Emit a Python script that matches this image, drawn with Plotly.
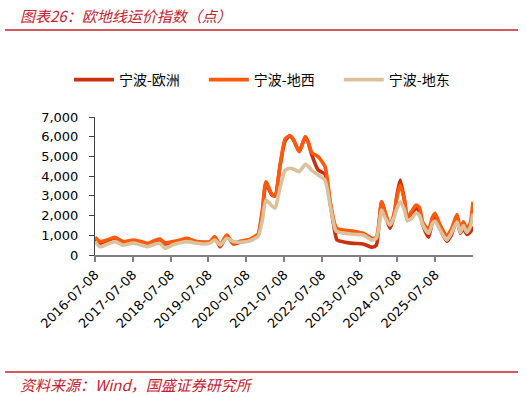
import plotly.graph_objects as go

dates = [
    "2016-07-08", "2016-08-25", "2016-11-03", "2017-01-18", "2017-04-05", "2017-07-12",
    "2017-09-16", "2017-12-01", "2018-02-09", "2018-03-28", "2018-05-15", "2018-07-31",
    "2018-10-08", "2018-12-13", "2019-03-18", "2019-05-19", "2019-07-23", "2019-09-09",
    "2019-10-30", "2020-01-01", "2020-03-07", "2020-05-12", "2020-08-15", "2020-10-01",
    "2020-10-30", "2020-12-09", "2021-01-15", "2021-03-11", "2021-04-13", "2021-05-30",
    "2021-07-20", "2021-09-06", "2021-10-12", "2021-12-02", "2022-01-30", "2022-02-28",
    "2022-04-01", "2022-06-03", "2022-08-08", "2022-09-28", "2022-11-14", "2022-12-02",
    "2023-02-17", "2023-05-08", "2023-08-11", "2023-11-07", "2023-12-17", "2024-01-11",
    "2024-02-06", "2024-03-10", "2024-04-26", "2024-06-05", "2024-07-05", "2024-08-04",
    "2024-09-13", "2024-10-12", "2024-11-21", "2025-01-04", "2025-02-06", "2025-03-11",
    "2025-05-05", "2025-06-10", "2025-07-06", "2025-08-26", "2025-10-27", "2025-12-10",
    "2026-02-03", "2026-03-08", "2026-04-06", "2026-05-09", "2026-06-10", "2026-07-08",
]

ningbo_europe = [
    820, 600, 700, 860, 620, 720,
    650, 540, 700, 780, 560, 640,
    720, 820, 640, 620, 650, 880,
    420, 960, 560, 650, 760, 900,
    1000, 2000, 3650, 3050, 3000, 4500,
    5800, 6050, 5800, 5250, 6000, 5700,
    5100, 4310, 4100, 2600, 1100, 760,
    650, 590, 560, 390, 500, 1500,
    2700, 2100, 1350, 2000, 3100, 3800,
    2800, 1750, 2000, 2400, 2200, 1500,
    900, 1700, 1950, 1300, 700, 1000,
    1800, 1100, 1350, 1050, 1150, 1440,
]

ningbo_west_med = [
    900, 680, 760, 900, 680, 760,
    700, 590, 750, 810, 620, 680,
    760, 850, 680, 660, 680, 930,
    510, 1015, 590, 700, 800, 950,
    1050, 2200, 3720, 3100, 3000, 4500,
    5900, 6050, 5800, 5240, 6000, 5700,
    5200, 4990, 4480, 2700, 1500, 1350,
    1250, 1200, 1100, 850, 900, 1600,
    2700, 2200, 1500, 2100, 3000, 3550,
    2800, 1950, 2200, 2540, 2400, 1650,
    1300, 1900, 2120, 1500, 1000, 1300,
    2050, 1350, 1690, 1350, 1600, 2700,
]

ningbo_east_med = [
    680, 420, 550, 680, 500, 600,
    520, 420, 560, 590, 340, 520,
    620, 680, 600, 560, 600, 760,
    510, 850, 680, 650, 720, 850,
    930, 1700, 2790, 2500, 2370, 3400,
    4300, 4400, 4350, 4230, 4600, 4500,
    4300, 4060, 3800, 2500, 1300, 1180,
    1100, 1050, 1015, 760, 850, 1400,
    2280, 1900, 1520, 1900, 2400, 2700,
    2300, 1750, 1850, 2130, 2000, 1500,
    1100, 1600, 1720, 1250, 760, 1100,
    1690, 1150, 1500, 1150, 1400, 2100,
]

series_names = ["宁波-欧洲", "宁波-地西", "宁波-地东"]
series_colors = ["#C9300F", "#FF5A0A", "#DCC29C"]

tick_dates = ["2016-07-08", "2017-07-08", "2018-07-08", "2019-07-08", "2020-07-08",
              "2021-07-08", "2022-07-08", "2023-07-08", "2024-07-08", "2025-07-08"]
y_ticks = [0, 1000, 2000, 3000, 4000, 5000, 6000, 7000]

title_text = "图表26：欧地线运价指数（点）"
source_text = "资料来源：Wind，国盛证券研究所"

CJK = "Noto Sans CJK SC"
NUM = "DejaVu Sans"
RED = "#C8202F"

legend_ids = ["legend", "legend2", "legend3"]
legend_x = [-0.069, 0.288, 0.645]

fig = go.Figure()
for name, vals, col, lid in zip(series_names,
                                [ningbo_europe, ningbo_west_med, ningbo_east_med],
                                series_colors, legend_ids):
    fig.add_trace(go.Scatter(
        x=dates, y=vals, name=name, mode="lines", legend=lid,
        line=dict(color=col, width=3.6, shape="spline", smoothing=0.6),
    ))

legend_common = dict(
    orientation="h", y=1.268, yanchor="middle", xanchor="left",
    font=dict(family=CJK, size=14, color="#000000"),
    bgcolor="rgba(0,0,0,0)", itemwidth=40,
)

layout_legends = {}
for lid, lx in zip(legend_ids, legend_x):
    layout_legends[lid] = dict(legend_common, x=lx)

fig.update_layout(
    width=526, height=396,
    margin=dict(l=95, r=53, t=117, b=141),
    paper_bgcolor="white", plot_bgcolor="white",
    showlegend=True,
    xaxis=dict(
        type="date",
        range=["2016-07-08", "2026-07-08"],
        tickmode="array", tickvals=tick_dates, ticktext=tick_dates,
        tickangle=-45,
        tickfont=dict(family=NUM, size=13, color="#000000"),
        showgrid=False, zeroline=False,
        showline=True, linecolor="#7F7F7F", linewidth=2,
        ticks="outside", ticklen=5, tickcolor="#7F7F7F", tickwidth=1.5,
    ),
    yaxis=dict(
        range=[0, 7000],
        tickmode="array", tickvals=y_ticks,
        tickformat=",d",
        tickfont=dict(family=NUM, size=13, color="#000000"),
        showgrid=False, zeroline=False,
        showline=True, linecolor="#404040", linewidth=1,
        ticks="outside", ticklen=5, tickcolor="#404040",
        ticklabelstandoff=8,
    ),
    annotations=[
        dict(text="<i>" + title_text + "</i>", xref="paper", yref="paper",
             x=-0.204, y=1.739, xanchor="left", yanchor="middle", showarrow=False,
             font=dict(family=CJK, size=15, color=RED)),
        dict(text="<i>" + source_text + "</i>", xref="paper", yref="paper",
             x=-0.204, y=-0.942, xanchor="left", yanchor="middle", showarrow=False,
             font=dict(family=CJK, size=15, color=RED)),
    ],
    shapes=[
        dict(type="line", xref="paper", yref="paper", x0=-0.238, x1=1.119,
             y0=1.630, y1=1.630, line=dict(color=RED, width=1.5)),
        dict(type="line", xref="paper", yref="paper", x0=-0.238, x1=1.119,
             y0=-0.848, y1=-0.848, line=dict(color=RED, width=1.5)),
    ],
    **layout_legends,
)

fig.write_html("out.html")
